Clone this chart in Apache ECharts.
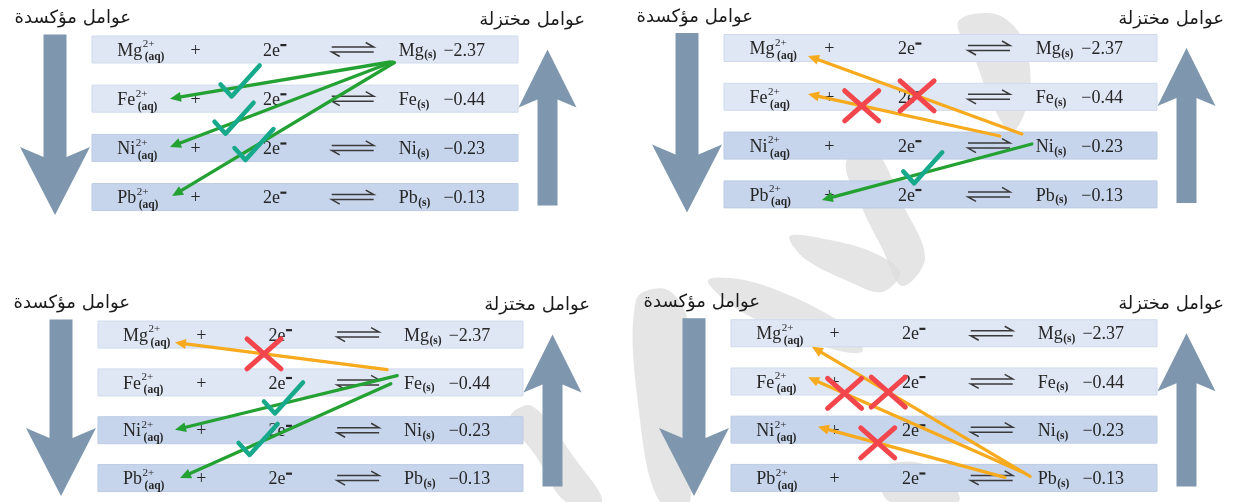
<!DOCTYPE html>
<html><head><meta charset="utf-8">
<script src="https://cdn.jsdelivr.net/npm/echarts@6/dist/echarts.min.js"></script>
<style>html,body{margin:0;padding:0;background:#fff}#c{width:1235px;height:502px}</style>
</head><body><div id="c"></div>
<script>
// ---------------- DATA ----------------
const species = ['Mg', 'Fe', 'Ni', 'Pb'];
const ionCharges = ['2+', '2+', '2+', '2+'];
const ionState = '(aq)';
const metalState = '(s)';
const electronText = '2e';
const potentials = [-2.37, -0.44, -0.23, -0.13];
const potentialLabels = ['−2.37', '−0.44', '−0.23', '−0.13'];
const leftTitle = 'عوامل مؤكسدة';
const rightTitle = 'عوامل مختزلة';
// panel order: top-left, top-right, bottom-left, bottom-right
const panelReducers = ['Mg', 'Ni', 'Fe', 'Pb'];
const panelTargets = [
  ['Fe', 'Ni', 'Pb'],
  ['Mg', 'Fe', 'Pb'],
  ['Mg', 'Ni', 'Pb'],
  ['Mg', 'Fe', 'Ni']
];
const panelResults = [
  [true, true, true],
  [false, false, true],
  [false, true, true],
  [false, false, false]
];

// ---------------- LAYOUT / STYLE ----------------
const panels = [
  { left: 92,  width: 426, c0: 49.5, sp: 49.2, tl: 39 },
  { left: 724, width: 433, c0: 48,   sp: 48.8, tl: 29 },
  { left: 98,  width: 425, c0: 335,  sp: 48.7, tl: 32 },
  { left: 731, width: 426, c0: 333.5, sp: 48.7, tl: 29 }
];
// per arrow: [start x %, start dy px, end x %, end dy px, mark position along arrow]
const arrowGeom = [
  [[70, 12.5, 18.3, 0, 0.72], [70.5, 12.5, 18.3, -1, 0.75], [71, 13, 18.8, -1, 0.67]],
  [[68.8, -11.6, 19.4, 8, 0.49], [63.7, -9.6, 19.4, -2.8, 0.72], [71.1, -1.6, 22.6, 5.6, 0.56]],
  [[68, -12.7, 18.1, 8, 0.58], [70.4, -6.7, 18.1, -0.4, 0.55], [68.9, 1.3, 19.3, 0, 0.67]],
  [[70.2, -1.6, 19, 13.5, 0.65], [68.5, -5.6, 18.1, -4.2, 0.83], [64.3, -0.6, 20.4, -2.9, 0.68]]
];
const SERIF = '"Liberation Serif","Times New Roman",serif';
const TXT = '#262626';
const rowFill = ['#dfe7f4', '#dfe7f4', '#c7d5ec', '#c7d5ec'];
const rowStroke = ['#cfdaec', '#cfdaec', '#bccbe4', '#bccbe4'];
const BIG = '#7e97ae';
const GREEN = '#24a133';
const ORANGE = '#f7aa1d';
const TEAL = '#17a98b';
const RED = '#f2454c';
const WM = '#dcdcdc';
const COL = { ion: 5.9, plus: 24.3, e: 42.7, eq: 61.2, metal: 72, pot: 82.5 };
const FS = 18;

const mctx = document.createElement('canvas').getContext('2d');
function tw(str, size, weight) {
  mctx.font = (weight || 'normal') + ' ' + size + 'px ' + SERIF;
  return mctx.measureText(str).width;
}
function txt(x, y, s, size, opts) {
  opts = opts || {};
  return { type: 'text', style: { x: x, y: y, text: s, fontSize: size, fontFamily: SERIF,
    fontWeight: opts.weight || 'normal', fill: TXT, align: opts.align || 'left', verticalAlign: 'middle' } };
}

function renderRow(params, api) {
  const k = api.value(1);
  const cs = params.coordSys;
  const yc = api.coord([0, k])[1];
  const X = p => api.coord([p, k])[0];
  const ch = [];
  ch.push({ type: 'rect', shape: { x: cs.x, y: yc - 13.5, width: cs.width, height: 27 },
    style: { fill: rowFill[k], stroke: rowStroke[k], lineWidth: 1 } });
  // ion
  const x = X(COL.ion);
  const mw = tw(species[k], FS);
  ch.push(txt(x, yc + 1.5, species[k], FS));
  ch.push(txt(x + mw + 0.5, yc - 5, ionCharges[k], 11));
  ch.push(txt(x + mw + 2.5, yc + 8, ionState, 11.5, { weight: 'bold' }));
  // plus
  ch.push(txt(X(COL.plus), yc + 1.5, '+', FS, { align: 'center' }));
  // electrons
  const ew = tw(electronText, FS);
  const ex = X(COL.e) - (ew + 5) / 2;
  ch.push(txt(ex, yc + 1.5, electronText, FS));
  ch.push({ type: 'rect', shape: { x: ex + ew + 0.5, y: yc - 5.5, width: 6, height: 2.2 }, style: { fill: TXT } });
  // equilibrium harpoons
  const qx = X(COL.eq);
  const hs = { stroke: '#3a3a3a', lineWidth: 1.5, fill: null };
  ch.push({ type: 'polyline', shape: { points: [[qx - 21, yc - 2.5], [qx + 21, yc - 2.5], [qx + 13, yc - 7]] }, style: hs });
  ch.push({ type: 'polyline', shape: { points: [[qx + 21, yc + 2.5], [qx - 21, yc + 2.5], [qx - 13, yc + 7]] }, style: hs });
  // metal
  const mx = X(COL.metal);
  const mw2 = tw(species[k], FS);
  ch.push(txt(mx, yc + 1.5, species[k], FS));
  ch.push(txt(mx + mw2 + 0.5, yc + 6, metalState, 11.5, { weight: 'bold' }));
  // potential
  ch.push(txt(X(COL.pot), yc + 1.5, potentialLabels[k], FS));
  return { type: 'group', children: ch };
}

function renderArrow(params, api) {
  const from = api.value(0), to = api.value(1), ok = api.value(2) > 0;
  const g = arrowGeom[api.value(3)][api.value(4)];
  const sx = api.coord([g[0], from])[0];
  const sy = api.coord([0, from])[1] + g[1];
  const ex = api.coord([g[2], to])[0];
  const ey = api.coord([0, to])[1] + g[3];
  const col = ok ? GREEN : ORANGE;
  const ang = Math.atan2(ey - sy, ex - sx);
  const L = 11, H = 5;
  const bx = ex - L * Math.cos(ang), by = ey - L * Math.sin(ang);
  const nx = -Math.sin(ang), ny = Math.cos(ang);
  const ch = [
    { type: 'line', shape: { x1: sx, y1: sy, x2: bx, y2: by }, style: { stroke: col, lineWidth: 3.3, lineCap: 'round' } },
    { type: 'polygon', shape: { points: [[ex, ey], [bx + nx * H, by + ny * H], [bx - nx * H, by - ny * H]] }, style: { fill: col } }
  ];
  const t = g[4];
  const mx = sx + (ex - sx) * t, my = sy + (ey - sy) * t;
  if (ok) {
    ch.push({ type: 'polyline', z2: 5, shape: { points: [[mx - 11, my - 4], [mx, my + 8], [mx + 28, my - 23]] },
      style: { stroke: TEAL, lineWidth: 4.5, lineCap: 'round', lineJoin: 'round', fill: null } });
  } else {
    const rs = { stroke: RED, lineWidth: 5, lineCap: 'round' };
    ch.push({ type: 'line', z2: 5, shape: { x1: mx - 17, y1: my - 15, x2: mx + 17, y2: my + 15 }, style: rs });
    ch.push({ type: 'line', z2: 5, shape: { x1: mx + 17, y1: my - 15, x2: mx - 17, y2: my + 15 }, style: rs });
  }
  return { type: 'group', children: ch };
}

function makeDecor(pi) {
  return function (params, api) {
    const cs = params.coordSys;
    const P = panels[pi];
    const y0 = api.coord([0, 0])[1], y3 = api.coord([0, 3])[1];
    const L = cs.x, R = cs.x + cs.width;
    const lx = L - 37, top = y0 - 15, tip = y3 + 18, wing = tip - 68;
    const down = [[lx - 11.5, top], [lx + 11.5, top], [lx + 11.5, wing + 10], [lx + 35, wing], [lx, tip],
      [lx - 35, wing], [lx - 11.5, wing + 10]];
    const rx = R + 29.5, rtip = y0, rbot = y3 + 8.5, rw = rtip + 58;
    const up = [[rx, rtip], [rx + 29, rw], [rx + 10, rw - 8], [rx + 10, rbot], [rx - 10, rbot], [rx - 10, rw - 8], [rx - 29, rw]];
    const tstyle = { fontSize: 18, fontFamily: '"DejaVu Sans",sans-serif', fill: '#1a1a1a', verticalAlign: 'middle', align: 'right' };
    return { type: 'group', children: [
      { type: 'polygon', shape: { points: down }, style: { fill: BIG } },
      { type: 'polygon', shape: { points: up }, style: { fill: BIG } },
      { type: 'text', style: Object.assign({ x: L + P.tl, y: y0 - 31, text: leftTitle }, tstyle) },
      { type: 'text', style: Object.assign({ x: R + 67, y: y0 - 29, text: rightTitle }, tstyle) }
    ] };
  };
}

// faint background watermark strokes (decoration)
const watermark = [
  [[958, 22], [995, 14], [1022, 38], [1030, 92], [1012, 132], [992, 104], [976, 62]],
  [[846, 162], [874, 150], [903, 205], [925, 258], [902, 286], [882, 248], [862, 208]],
  [[790, 236], [830, 240], [872, 252], [900, 272], [882, 292], [850, 282], [804, 258]],
  [[708, 280], [760, 284], [850, 328], [862, 352], [822, 346], [742, 312]],
  [[636, 300], [668, 290], [690, 330], [690, 502], [660, 502], [640, 420]],
  [[510, 418], [532, 406], [576, 460], [602, 502], [566, 502], [536, 456]],
  [[880, 470], [915, 462], [950, 480], [958, 502], [890, 502]]
].map(pts => ({ type: 'polygon', z: -10, silent: true, shape: { points: pts, smooth: 0.35 }, style: { fill: WM, opacity: 0.75 } }));

const grid = [], xAxis = [], yAxis = [], series = [];
panels.forEach((P, i) => {
  grid.push({ left: P.left, width: P.width, top: P.c0 - P.sp / 2, height: 4 * P.sp });
  xAxis.push({ gridIndex: i, type: 'value', min: 0, max: 100, show: false });
  yAxis.push({ gridIndex: i, type: 'value', min: -0.5, max: 3.5, inverse: true, show: false });
  series.push({ type: 'custom', xAxisIndex: i, yAxisIndex: i, z: 2, clip: false, silent: true,
    renderItem: makeDecor(i), data: [[0, 0]] });
  series.push({ type: 'custom', xAxisIndex: i, yAxisIndex: i, z: 3, clip: false, silent: true,
    renderItem: renderRow, data: species.map((s, k) => [0, k]) });
  const r = species.indexOf(panelReducers[i]);
  series.push({ type: 'custom', xAxisIndex: i, yAxisIndex: i, z: 4, clip: false, silent: true,
    renderItem: renderArrow,
    data: panelTargets[i].map((t, j) => [r, species.indexOf(t), panelResults[i][j] ? 1 : 0, i, j]) });
});

const chart = echarts.init(document.getElementById('c'), null, { renderer: 'canvas' });
chart.setOption({ animation: false, backgroundColor: '#ffffff', graphic: watermark, grid, xAxis, yAxis, series });
</script>
</body></html>
